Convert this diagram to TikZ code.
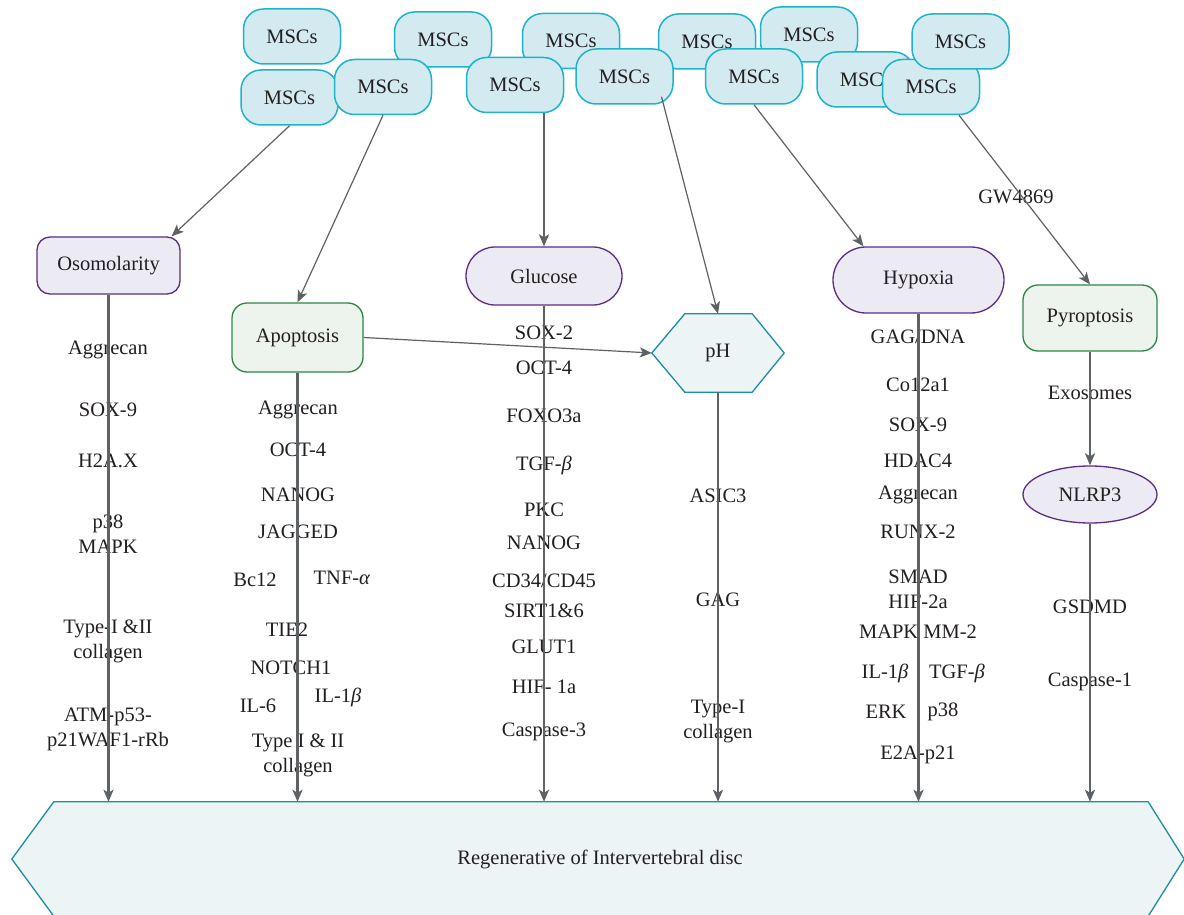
\documentclass[tikz,border=0pt]{standalone}
\usepackage{fontspec}
\setmainfont{Liberation Serif}
\usetikzlibrary{arrows.meta,shapes.geometric}
\definecolor{msfill}{HTML}{D3EBF0}
\definecolor{msdraw}{HTML}{1DB4CA}
\definecolor{lavfill}{HTML}{ECEBF3}
\definecolor{lavdraw}{HTML}{5A2D86}
\definecolor{grnfill}{HTML}{EDF4EE}
\definecolor{grndraw}{HTML}{2E8644}
\definecolor{hexfill}{HTML}{ECF4F6}
\definecolor{hexdraw}{HTML}{1A8FA0}
\definecolor{linec}{HTML}{5E6265}
\definecolor{txt}{HTML}{231F20}
\begin{document}
\begin{tikzpicture}[x=1pt,y=-1pt,
  every node/.style={font=\fontsize{20.5}{25}\selectfont, text=txt, inner sep=0pt, align=center},
  msc/.style={draw=msdraw, fill=msfill, line width=1.5pt, rounded corners=20pt, minimum width=97pt, minimum height=55pt},
  lav/.style={draw=lavdraw, fill=lavfill, line width=1.3pt},
  grn/.style={draw=grndraw, fill=grnfill, line width=1.3pt},
  hexs/.style={draw=hexdraw, fill=hexfill, line width=1.3pt},
  thick arrow/.style={draw=linec, line width=2.2pt, -{Stealth[length=12pt,width=10pt,inset=3pt]}},
  thin arrow/.style={draw=linec, line width=1.2pt, -{Stealth[length=12pt,width=10pt,inset=3pt]}},
]
\clip (0,0) rectangle (1184,915);
\fill[white] (0,0) rectangle (1184,915);

% MSCs boxes
\node[msc] (A) at (292,36.5) {MSCs};
\node[msc] (B) at (289.5,97.5) {MSCs};
\node[msc] (D) at (443,39.5) {MSCs};
\node[msc] (C) at (383,87) {MSCs};
\node[msc] (F) at (571,41) {MSCs};
\node[msc] (E) at (515,85) {MSCs};
\node[msc] (H) at (707,41.5) {MSCs};
\node[msc] (G) at (624.5,76.5) {MSCs};
\node[msc] (I) at (809,34.5) {MSCs};
\node[msc] (J) at (754,76.5) {MSCs};
\node[msc] (K) at (865.5,79.5) {MSCs};
\node[msc] (L) at (931,87) {MSCs};
\node[msc] (M) at (960.5,41.5) {MSCs};

% category nodes
\node[lav, rounded corners=13pt, minimum width=143pt, minimum height=57pt] (osmo) at (108.5,265.5) {Osomolarity};
\node[grn, rounded corners=15pt, minimum width=131pt, minimum height=69pt] (apop) at (297.5,337.5) {Apoptosis};
\node[lav, rounded corners=29pt, minimum width=156pt, minimum height=58pt] (glu) at (544,276) {Glucose};
\node[lav, rounded corners=33pt, minimum width=171pt, minimum height=66pt] (hyp) at (918.5,280) {Hypoxia};
\node[grn, rounded corners=15pt, minimum width=134pt, minimum height=66pt] (pyro) at (1090,318) {Pyroptosis};
\node[lav, ellipse, minimum width=134pt, minimum height=57pt] (nlrp) at (1090,494.5) {NLRP3};

% pH hexagon
\node[minimum width=132pt, minimum height=78pt] (ph) at (718,353) {};
\filldraw[hexs] (ph.west) -- ([xshift=33pt]ph.north west) -- ([xshift=-32pt]ph.north east) -- (ph.east) -- ([xshift=-32pt]ph.south east) -- ([xshift=33pt]ph.south west) -- cycle;
\node (phl) at (ph.center) {pH};

% bottom hexagon
\node[minimum width=1172pt, minimum height=114pt] (disc) at (598,859) {};
\filldraw[hexs] (disc.west) -- ([xshift=42pt]disc.north west) -- ([xshift=-36pt]disc.north east) -- (disc.east) -- ([xshift=-36pt]disc.south east) -- ([xshift=42pt]disc.south west) -- cycle;
\node (discl) at ([xshift=2pt]disc.center) {Regenerative of Intervertebral disc};

% labels: Osomolarity column
\node (o1) at (108,350) {Aggrecan};
\node (o2) at (108,410) {SOX-9};
\node (o3) at (108,461) {H2A.X};
\node (o4) at (108,534) {p38\\MAPK};
\node (o5) at (108,641) {Type-I \&II\\collagen};
\node (o6) at (108,729.5) {ATM-p53-\\p21WAF1-rRb};

% Apoptosis column
\node (a1) at (298,410) {Aggrecan};
\node (a2) at (298,449.5) {OCT-4};
\node (a3) at (298,495) {NANOG};
\node (a4) at (298,532) {JAGGED};
\node (a5) at (255,580) {Bc12};
\node (a6) at (342,578) {TNF-\textit{α}};
\node (a7) at (287,630) {TIE2};
\node (a8) at (291,668) {NOTCH1};
\node (a9) at (258,706) {IL-6};
\node (a10) at (338,697) {IL-1\textit{β}};
\node (a11) at (298,755.5) {Type I \& II\\collagen};

% Glucose column
\node (g1) at (544,333) {SOX-2};
\node (g2) at (544,368) {OCT-4};
\node (g3) at (544,416) {FOXO3a};
\node (g4) at (544,465) {TGF-\textit{β}};
\node (g5) at (544,509.5) {PKC};
\node (g6) at (544,543) {NANOG};
\node (g7) at (544,581) {CD34/CD45};
\node (g8) at (544,611) {SIRT1\&6};
\node (g9) at (544,647) {GLUT1};
\node (g10) at (544,687) {HIF- 1a};
\node (g11) at (544,732) {Caspase-3};

% pH column
\node (p1) at (718,496) {ASIC3};
\node (p2) at (718,600) {GAG};
\node (p3) at (718,721) {Type-I\\collagen};

% Hypoxia column
\node (h1) at (918,337) {GAG/DNA};
\node (h2) at (918,385) {Co12a1};
\node (h3) at (918,425) {SOX-9};
\node (h4) at (918,461) {HDAC4};
\node (h5) at (918,495) {Aggrecan};
\node (h6) at (918,532) {RUNX-2};
\node (h7) at (918,589) {SMAD\\HIF-2a};
\node (h8) at (918,632) {MAPK MM-2};
\node (h9) at (885,673) {IL-1\textit{β}};
\node (h10) at (957,673) {TGF-\textit{β}};
\node (h11) at (886,712) {ERK};
\node (h12) at (943,712) {p38};
\node (h13) at (918,755) {E2A-p21};

% Pyroptosis column
\node (y0) at (1016,197) {GW4869};
\node (y1) at (1090,393) {Exosomes};
\node (y2) at (1090,607) {GSDMD};
\node (y3) at (1090,682) {Caspase-1};

% connectors from MSCs
\draw[thin arrow] (B.south) -- ([xshift=-9pt]osmo.north east);
\draw[thin arrow] (C.south) -- (apop.north);
\draw[thick arrow] (glu.north |- E.south) -- (glu.north);
\draw[thin arrow] ([shift={(37pt,8pt)}]G.south) -- (ph.north);
\draw[thin arrow] (J.south) -- ([xshift=-55pt]hyp.north);
\draw[thin arrow] ([xshift=28pt]L.south) -- (pyro.north);
\draw[thin arrow] (apop.east) -- (ph.west);
\draw[thick arrow] (pyro.south) -- (nlrp.north);

% connectors to disc
\draw[thick arrow] (osmo.south) -- (osmo.south |- disc.north);
\draw[thick arrow] (apop.south) -- (apop.south |- disc.north);
\draw[thick arrow] (glu.south) -- (glu.south |- disc.north);
\draw[thick arrow] (ph.south) -- (ph.south |- disc.north);
\draw[thick arrow] (hyp.south) -- (hyp.south |- disc.north);
\draw[thick arrow] (nlrp.south) -- (nlrp.south |- disc.north);
\end{tikzpicture}
\end{document}
